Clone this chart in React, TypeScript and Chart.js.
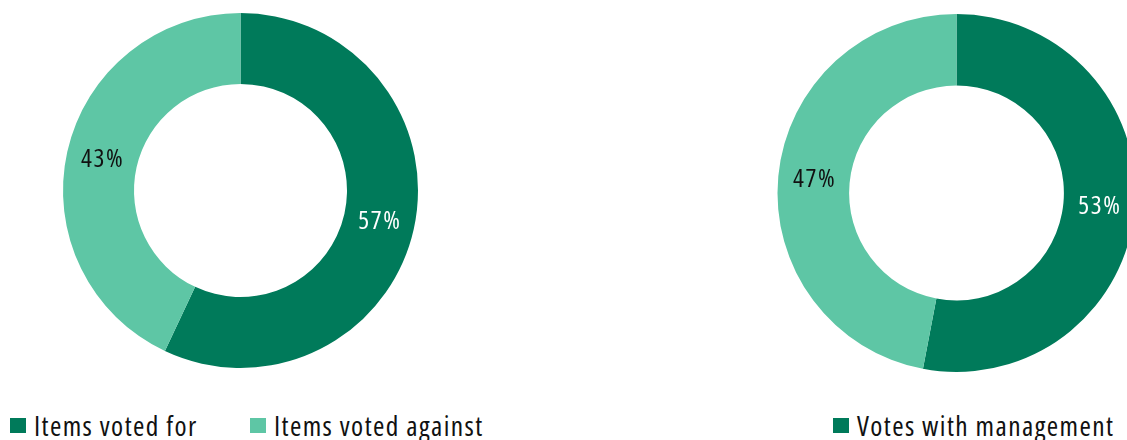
import React, { useEffect, useRef } from "react";
import { Chart, registerables } from "chart.js";

Chart.register(...registerables);

const leftCategories = ["Items voted for", "Items voted against"];
const leftValues = [57, 43];
const rightCategories = ["Votes with management", "Votes against management"];
const rightValues = [53, 47];
const sliceColors = ["#007A5A", "#5EC6A5"];
const sliceTextColors = ["#FFFFFF", "#111111"];

const FONT = '"Open Sans", "Liberation Sans", Arial, sans-serif';

const labelPlugin = {
  id: "sliceLabels",
  afterDatasetsDraw(chart: any) {
    const { ctx } = chart;
    const meta = chart.getDatasetMeta(0);
    const values = chart.data.datasets[0].data as number[];
    ctx.save();
    ctx.font = `condensed 25.5px ${FONT}`;
    try {
      (ctx as any).fontStretch = "condensed";
      (ctx as any).letterSpacing = "1.7px";
    } catch (e) {}
    ctx.textAlign = "center";
    ctx.textBaseline = "middle";
    meta.data.forEach((arc: any, i: number) => {
      const p = arc.getCenterPoint();
      ctx.fillStyle = sliceTextColors[i];
      ctx.fillText(`${values[i]}%`, p.x + 0.8, p.y);
    });
    ctx.restore();
  },
};

function Donut({ categories, values, padTop, padBottom }: { categories: string[]; values: number[]; padTop: number; padBottom: number }) {
  const ref = useRef<HTMLCanvasElement | null>(null);
  useEffect(() => {
    if (!ref.current) return;
    const chart = new Chart(ref.current, {
      type: "doughnut",
      data: {
        labels: categories,
        datasets: [
          {
            data: values,
            backgroundColor: sliceColors,
            borderWidth: 0,
          },
        ],
      },
      options: {
        animation: false,
        responsive: true,
        maintainAspectRatio: false,
        cutout: "60%",
        layout: { padding: { top: padTop, bottom: padBottom } },
        plugins: {
          legend: { display: false },
          tooltip: { enabled: false },
        },
      },
      plugins: [labelPlugin],
    });
    return () => chart.destroy();
  }, [categories, values, padTop, padBottom]);
  return <canvas ref={ref} />;
}

function Legend({ categories, itemWidth }: { categories: string[]; itemWidth: number }) {
  return (
    <div style={{ display: "flex", alignItems: "center" }}>
      {categories.map((c, i) => (
        <div
          key={c}
          style={{
            display: "flex",
            alignItems: "center",
            minWidth: itemWidth,
            whiteSpace: "nowrap",
          }}
        >
          <span
            style={{
              display: "inline-block",
              width: 16,
              height: 15,
              background: sliceColors[i],
              marginRight: 8,
              flex: "none",
            }}
          />
          <span
            style={{
              fontFamily: FONT,
              fontStretch: "75%",
              fontSize: 27.5,
              letterSpacing: "1.4px",
              color: "#111111",
            }}
          >
            {c}
          </span>
        </div>
      ))}
    </div>
  );
}

export default function App() {
  return (
    <div
      style={{
        position: "fixed",
        left: 0,
        top: 0,
        width: 1127,
        height: 440,
        overflow: "hidden",
        background: "#ffffff",
      }}
    >
      <div style={{ position: "absolute", left: 0, top: 0, width: 481, height: 381 }}>
        <Donut categories={leftCategories} values={leftValues} padTop={13} padBottom={13} />
      </div>
      <div style={{ position: "absolute", left: 715.5, top: 0, width: 481, height: 386 }}>
        <Donut categories={rightCategories} values={rightValues} padTop={14} padBottom={14} />
      </div>
      <div style={{ position: "absolute", left: 10, top: 407, height: 37 }}>
        <Legend categories={leftCategories} itemWidth={240} />
      </div>
      <div style={{ position: "absolute", left: 833, top: 407, height: 37 }}>
        <Legend categories={rightCategories} itemWidth={334} />
      </div>
    </div>
  );
}
